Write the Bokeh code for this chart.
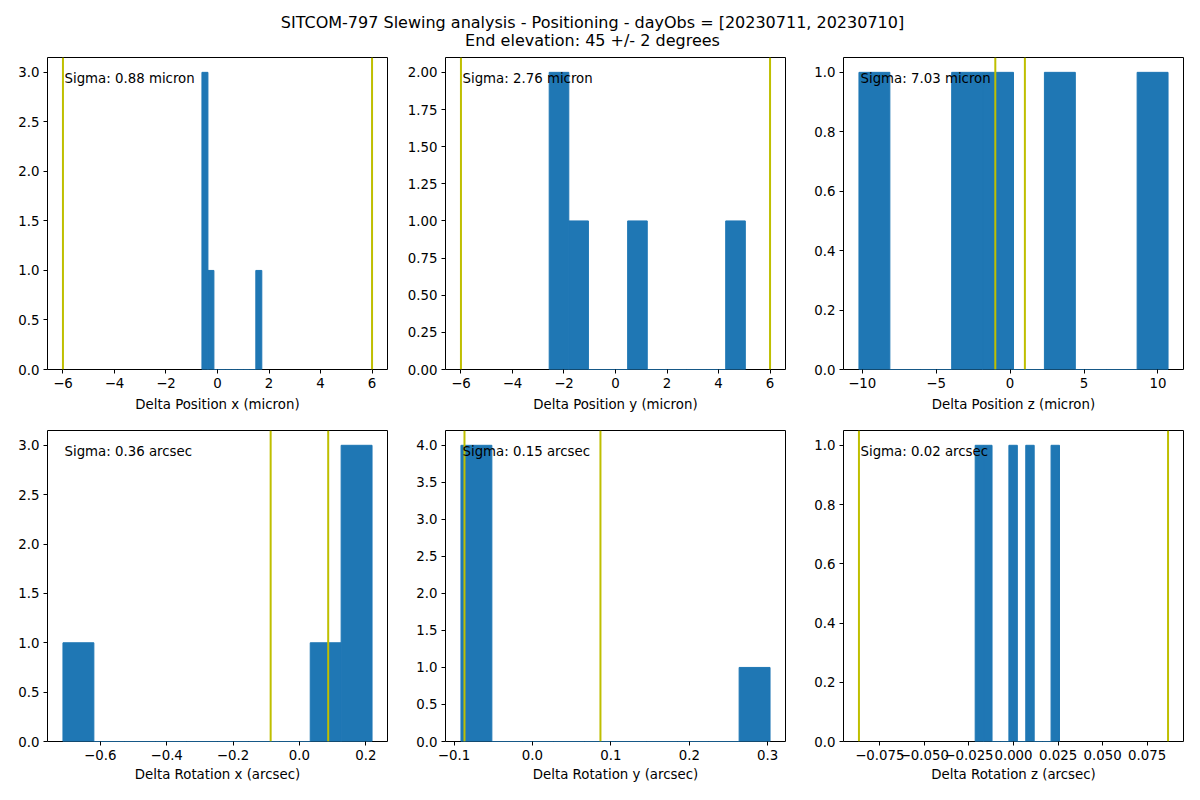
import numpy as np
from bokeh.plotting import figure
from bokeh.layouts import column, row
from bokeh.models import Range1d, Span, Label, FixedTicker
from bokeh.embed import file_html
from bokeh.resources import INLINE

# ---------------- data ----------------
TITLE_LINE1 = "SITCOM-797 Slewing analysis - Positioning - dayObs = [20230711, 20230710]"
TITLE_LINE2 = "End elevation: 45 +/- 2 degrees"

x_labels = [
    "Delta Position x (micron)",
    "Delta Position y (micron)",
    "Delta Position z (micron)",
    "Delta Rotation x (arcsec)",
    "Delta Rotation y (arcsec)",
    "Delta Rotation z (arcsec)",
]
sigma_texts = [
    "Sigma: 0.88 micron",
    "Sigma: 2.76 micron",
    "Sigma: 7.03 micron",
    "Sigma: 0.36 arcsec",
    "Sigma: 0.15 arcsec",
    "Sigma: 0.02 arcsec",
]

# histogram data range (min, max) -- 10 equal bins each
hist_min = [-0.604, -2.574, -10.22, -0.7125, -0.0912, -0.0215]
hist_max = [1.72, 5.04, 10.68, 0.2188, 0.303, 0.0258]

counts_pos_x = [3, 1, 0, 0, 0, 0, 0, 0, 0, 1]
counts_pos_y = [2, 1, 0, 0, 1, 0, 0, 0, 0, 1]
counts_pos_z = [1, 0, 0, 1, 1, 0, 1, 0, 0, 1]
counts_rot_x = [1, 0, 0, 0, 0, 0, 0, 0, 1, 3]
counts_rot_y = [4, 0, 0, 0, 0, 0, 0, 0, 0, 1]
counts_rot_z = [1, 1, 0, 0, 1, 0, 1, 0, 0, 1]
all_counts = [counts_pos_x, counts_pos_y, counts_pos_z,
              counts_rot_x, counts_rot_y, counts_rot_z]

# +/- limit lines
limits = [6.0, 6.0, 1.0, 0.0867, 0.0867, 0.0867]

x_ticks = [
    [-6, -4, -2, 0, 2, 4, 6],
    [-6, -4, -2, 0, 2, 4, 6],
    [-10, -5, 0, 5, 10],
    [-0.6, -0.4, -0.2, 0.0, 0.2],
    [-0.1, 0.0, 0.1, 0.2, 0.3],
    [-0.075, -0.05, -0.025, 0.0, 0.025, 0.05, 0.075],
]
x_tick_labels = [
    ["\u22126", "\u22124", "\u22122", "0", "2", "4", "6"],
    ["\u22126", "\u22124", "\u22122", "0", "2", "4", "6"],
    ["\u221210", "\u22125", "0", "5", "10"],
    ["\u22120.6", "\u22120.4", "\u22120.2", "0.0", "0.2"],
    ["\u22120.1", "0.0", "0.1", "0.2", "0.3"],
    ["\u22120.075", "\u22120.050", "\u22120.025", "0.000", "0.025", "0.050", "0.075"],
]
y_ticks = [
    [0, 0.5, 1.0, 1.5, 2.0, 2.5, 3.0],
    [0, 0.25, 0.5, 0.75, 1.0, 1.25, 1.5, 1.75, 2.0],
    [0, 0.2, 0.4, 0.6, 0.8, 1.0],
    [0, 0.5, 1.0, 1.5, 2.0, 2.5, 3.0],
    [0, 0.5, 1.0, 1.5, 2.0, 2.5, 3.0, 3.5, 4.0],
    [0, 0.2, 0.4, 0.6, 0.8, 1.0],
]
y_tick_labels = [
    ["0.0", "0.5", "1.0", "1.5", "2.0", "2.5", "3.0"],
    ["0.00", "0.25", "0.50", "0.75", "1.00", "1.25", "1.50", "1.75", "2.00"],
    ["0.0", "0.2", "0.4", "0.6", "0.8", "1.0"],
    ["0.0", "0.5", "1.0", "1.5", "2.0", "2.5", "3.0"],
    ["0.0", "0.5", "1.0", "1.5", "2.0", "2.5", "3.0", "3.5", "4.0"],
    ["0.0", "0.2", "0.4", "0.6", "0.8", "1.0"],
]

# ---------------- style / layout ----------------
FONT = "DejaVu Sans"
FS = "13.33px"
BAR_COLOR = "#1f77b4"
LINE_COLOR = "#bfbf00"

col_borders = [(47, 11), (47, 11), (47, 1)]
row_borders = [(7, 45), (16, 42)]
label_standoffs = [6, 4]
FRAME_W, FRAME_H = 340, 312
TEXT_FX, TEXT_FY = 0.05, 0.933


def make_panel(i):
    r, c = divmod(i, 3)
    bl, br = col_borders[c]
    bt, bb = row_borders[r]
    counts = np.array(all_counts[i], dtype=float)
    edges = np.linspace(hist_min[i], hist_max[i], len(counts) + 1)
    lim = limits[i]
    lo = min(edges[0], -lim)
    hi = max(edges[-1], lim)
    pad = 0.05 * (hi - lo)
    x0, x1 = lo - pad, hi + pad
    y1 = counts.max() * 1.05

    p = figure(width=bl + FRAME_W + br, height=bt + FRAME_H + bb,
               x_range=Range1d(x0, x1), y_range=Range1d(0, y1),
               output_backend="svg", toolbar_location=None,
               min_border_left=bl, min_border_right=br,
               min_border_top=bt, min_border_bottom=bb)
    p.grid.visible = False
    p.outline_line_color = "black"
    p.outline_line_width = 1
    p.background_fill_color = "white"
    p.border_fill_color = "white"

    p.quad(left=edges[:-1], right=edges[1:], top=counts, bottom=0,
           fill_color=BAR_COLOR, line_color=BAR_COLOR, line_width=1)

    for loc in (-lim, lim):
        p.add_layout(Span(location=loc, dimension="height",
                          line_color=LINE_COLOR, line_width=2))

    p.add_layout(Label(x=x0 + TEXT_FX * (x1 - x0), y=TEXT_FY * y1,
                       text=sigma_texts[i], text_font=FONT,
                       text_font_size=FS, text_color="black",
                       text_baseline="middle", text_align="left"))

    xt, yt = x_ticks[i], y_ticks[i]
    p.xaxis.ticker = FixedTicker(ticks=xt)
    p.xaxis.major_label_overrides = {float(t): l for t, l in zip(xt, x_tick_labels[i])}
    p.yaxis.ticker = FixedTicker(ticks=yt)
    p.yaxis.major_label_overrides = {float(t): l for t, l in zip(yt, y_tick_labels[i])}
    p.xaxis.axis_label = x_labels[i]

    for ax in (p.xaxis[0], p.yaxis[0]):
        ax.axis_line_color = None
        ax.major_tick_line_color = "black"
        ax.major_tick_line_width = 1
        ax.major_tick_out = 4
        ax.major_tick_in = 0
        ax.minor_tick_line_color = None
        ax.major_label_standoff = 4
        ax.major_label_text_font = FONT
        ax.major_label_text_font_size = FS
        ax.major_label_text_color = "black"
        ax.axis_label_text_font = FONT
        ax.axis_label_text_font_size = FS
        ax.axis_label_text_font_style = "normal"
        ax.axis_label_text_color = "black"
        ax.axis_label_standoff = label_standoffs[r]
    return p


panels = [make_panel(i) for i in range(6)]

total_w = sum(bl + FRAME_W + br for bl, br in col_borders)
TITLE_H = 50
title_fig = figure(width=total_w, height=TITLE_H,
                   x_range=Range1d(0, total_w), y_range=Range1d(0, TITLE_H),
                   output_backend="svg", toolbar_location=None,
                   min_border=0)
title_fig.axis.visible = False
title_fig.grid.visible = False
title_fig.outline_line_color = None
title_fig.add_layout(Label(x=600 - 8, y=TITLE_H - 22, text=TITLE_LINE1,
                           text_font=FONT, text_font_size="16px",
                           text_color="black", text_align="center",
                           text_baseline="middle"))
title_fig.add_layout(Label(x=600 - 8, y=TITLE_H - 40, text=TITLE_LINE2,
                           text_font=FONT, text_font_size="16px",
                           text_color="black", text_align="center",
                           text_baseline="middle"))

layout = column(title_fig, row(*panels[:3]), row(*panels[3:]))

open("out.html", "w").write(file_html(layout, INLINE))
